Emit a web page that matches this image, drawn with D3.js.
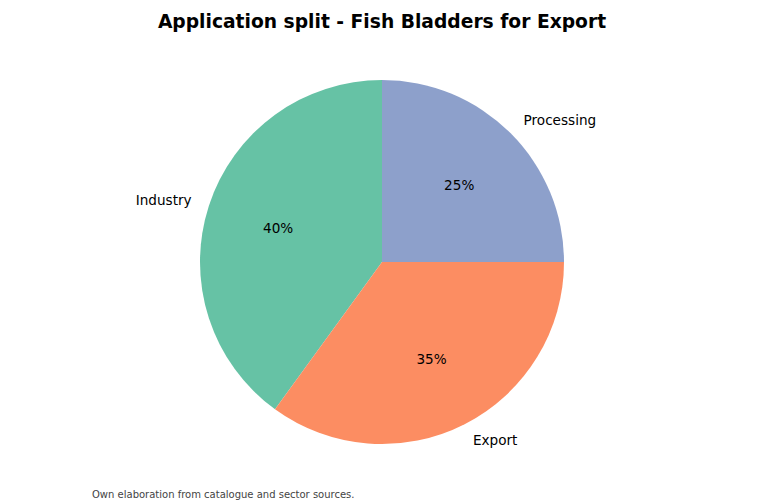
<!DOCTYPE html>
<html>
<head>
<meta charset="utf-8">
<script src="https://cdn.jsdelivr.net/npm/d3@7"></script>
<style>
  html, body { margin: 0; padding: 0; background: #fff; }
  svg { display: block; font-family: "DejaVu Sans", sans-serif; }
</style>
</head>
<body>
<svg id="chart"></svg>
<script>
const categories = ['Industry', 'Export', 'Processing'];
const shares = [40, 35, 25];
const sliceColors = ['#66c2a5', '#fc8d62', '#8da0cb'];

const W = 765, H = 503;
const cx = 382, cy = 262, R = 182;

const svg = d3.select('#chart').attr('width', W).attr('height', H);
svg.append('rect').attr('width', W).attr('height', H).attr('fill', '#fff');

// title
svg.append('text')
  .attr('x', cx).attr('y', 28)
  .attr('text-anchor', 'middle')
  .style('font-size', '18.7px').style('font-weight', 'bold')
  .text('Application split - Fish Bladders for Export');

// pie: start at top, run counter-clockwise like matplotlib startangle=90
const pie = d3.pie().sort(null).value(d => d.v)
  .startAngle(0).endAngle(-2 * Math.PI);
const data = categories.map((c, i) => ({ c, v: shares[i], col: sliceColors[i] }));
const arcs = pie(data);
const arc = d3.arc().innerRadius(0).outerRadius(R);

const g = svg.append('g').attr('transform', `translate(${cx},${cy})`);
g.selectAll('path.slice').data(arcs).join('path')
  .attr('class', 'slice')
  .attr('d', arc)
  .attr('fill', d => d.data.col);

const pos = (d, k) => {
  const a = (d.startAngle + d.endAngle) / 2;
  return [k * R * Math.sin(a), -k * R * Math.cos(a)];
};

// outer labels
g.selectAll('text.lbl').data(arcs).join('text')
  .attr('class', 'lbl')
  .attr('x', d => pos(d, 1.1)[0])
  .attr('y', d => pos(d, 1.1)[1])
  .attr('dy', '0.35em')
  .attr('text-anchor', d => pos(d, 1.1)[0] > 0 ? 'start' : 'end')
  .style('font-size', '13.6px')
  .text(d => d.data.c);

// percentages
g.selectAll('text.pct').data(arcs).join('text')
  .attr('class', 'pct')
  .attr('x', d => pos(d, 0.6)[0])
  .attr('y', d => pos(d, 0.6)[1])
  .attr('dy', '0.35em')
  .attr('text-anchor', 'middle')
  .style('font-size', '13.6px')
  .text(d => d3.format('.0f')(d.data.v) + '%');

// source note
svg.append('text')
  .attr('x', 92).attr('y', 498)
  .style('font-size', '10px').attr('fill', '#444')
  .text('Own elaboration from catalogue and sector sources.');
</script>
</body>
</html>
